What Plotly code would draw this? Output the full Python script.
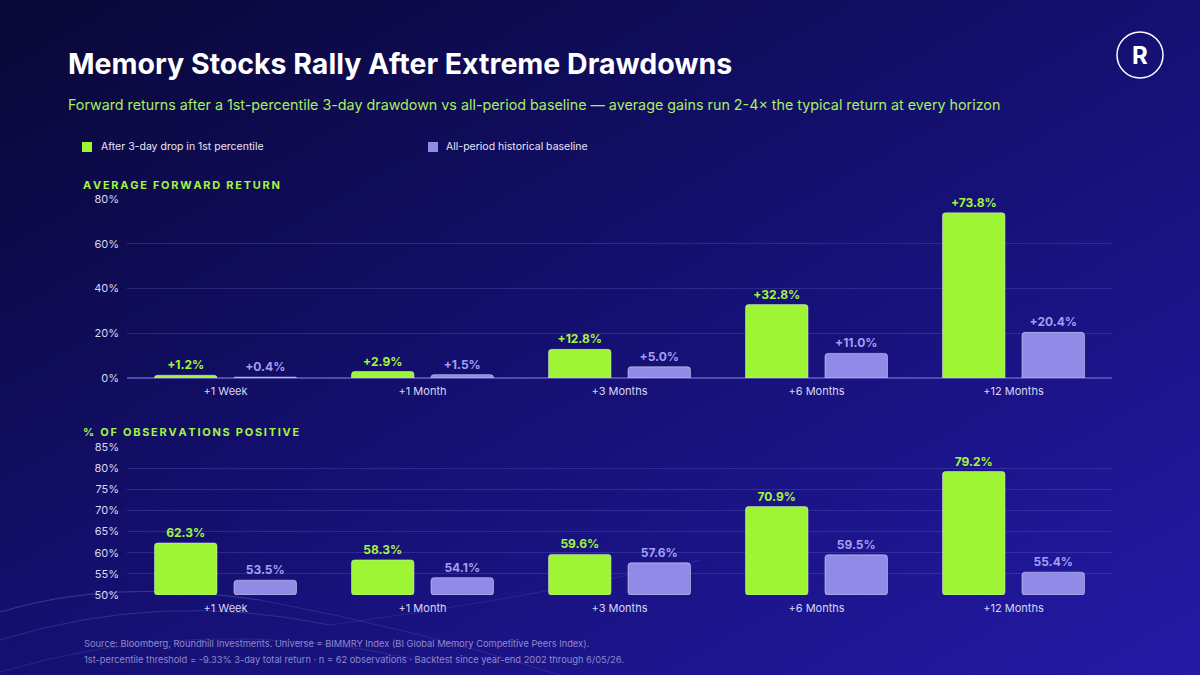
import base64
import numpy as np
import plotly.graph_objects as go

W, H = 1200, 675

# ---------------- data ----------------
horizons = ["+1 Week", "+1 Month", "+3 Months", "+6 Months", "+12 Months"]
avg_after_drop = [1.2, 2.9, 12.8, 32.8, 73.8]
avg_baseline = [0.4, 1.5, 5.0, 11.0, 20.4]
pos_after_drop = [62.3, 58.3, 59.6, 70.9, 79.2]
pos_baseline = [53.5, 54.1, 57.6, 59.5, 55.4]

series_names = ["After 3-day drop in 1st percentile", "All-period historical baseline"]
title_text = "Memory Stocks Rally After Extreme Drawdowns"
subtitle_text = ("Forward returns after a 1st-percentile 3-day drawdown vs all-period baseline — "
                 "average gains run 2-4× the typical return at every horizon")
section1 = "AVERAGE FORWARD RETURN"
section2 = "% OF OBSERVATIONS POSITIVE"
footer1 = "Source: Bloomberg, Roundhill Investments. Universe = BIMMRY Index (BI Global Memory Competitive Peers Index)."
footer2 = "1st-percentile threshold = -9.33% 3-day total return · n = 62 observations · Backtest since year-end 2002 through 6/05/26."

# ---------------- style ----------------
GREEN = "#9df534"
PURPLE = "#918ae6"
GREEN_TXT = "#a3f53f"
PURPLE_TXT = "#a49ef0"
TICK = "#d9d7f2"
GRID = "rgba(110,105,220,0.28)"
FONT = "Inter"


def px_x(x):
    return x / W


def px_y(y):
    return 1 - y / H


svg = f"""<svg xmlns='http://www.w3.org/2000/svg' width='{W}' height='{H}' viewBox='0 0 {W} {H}' preserveAspectRatio='none'>
<defs><linearGradient id='g' x1='0' y1='0' x2='1' y2='1'>
<stop offset='0' stop-color='#090735'/>
<stop offset='0.45' stop-color='#130f6c'/>
<stop offset='1' stop-color='#2419a6'/>
</linearGradient></defs>
<rect width='{W}' height='{H}' fill='url(#g)'/>
</svg>"""
bg_src = "data:image/svg+xml;base64," + base64.b64encode(svg.encode()).decode()

fig = go.Figure()

# top chart
fig.add_trace(go.Bar(x=horizons, y=avg_after_drop, name=series_names[0], marker_color=GREEN,
                     text=[f"+{v:.1f}%" for v in avg_after_drop], textposition="outside",
                     textfont=dict(color=GREEN_TXT, size=12, family=FONT, weight="bold"),
                     cliponaxis=False, xaxis="x", yaxis="y", showlegend=False))
fig.add_trace(go.Bar(x=horizons, y=avg_baseline, name=series_names[1], marker_color=PURPLE,
                     text=[f"+{v:.1f}%" for v in avg_baseline], textposition="outside",
                     textfont=dict(color=PURPLE_TXT, size=12, family=FONT, weight="bold"),
                     cliponaxis=False, xaxis="x", yaxis="y", showlegend=False))

# bottom chart (bars rise from the 50% floor)
base_pct = 50
fig.add_trace(go.Bar(x=horizons, y=np.array(pos_after_drop) - base_pct, base=base_pct,
                     name=series_names[0], marker_color=GREEN,
                     text=[f"{v:.1f}%" for v in pos_after_drop], textposition="outside",
                     textfont=dict(color=GREEN_TXT, size=12, family=FONT, weight="bold"),
                     cliponaxis=False, xaxis="x2", yaxis="y2", showlegend=False))
fig.add_trace(go.Bar(x=horizons, y=np.array(pos_baseline) - base_pct, base=base_pct,
                     name=series_names[1], marker_color=PURPLE,
                     text=[f"{v:.1f}%" for v in pos_baseline], textposition="outside",
                     textfont=dict(color=PURPLE_TXT, size=12, family=FONT, weight="bold"),
                     cliponaxis=False, xaxis="x2", yaxis="y2", showlegend=False))

xdom = [px_x(127), px_x(1112)]
axis_common = dict(showline=False, ticks="", automargin=False,
                   tickfont=dict(color=TICK, size=11, family=FONT))

fig.update_layout(
    width=W, height=H,
    margin=dict(l=0, r=0, t=0, b=0, pad=0, autoexpand=False),
    paper_bgcolor="#14106c",
    plot_bgcolor="rgba(0,0,0,0)",
    barmode="group", bargap=0.193, bargroupgap=0.214, barcornerradius=3,
    font=dict(family=FONT, color=TICK),
    xaxis=dict(domain=xdom, anchor="y", showgrid=False, ticklabelstandoff=5, **axis_common),
    yaxis=dict(domain=[px_y(378), px_y(199)], range=[0, 80], dtick=20, ticksuffix="%",
               gridcolor=GRID, gridwidth=1, zeroline=True, zerolinecolor="#4f4aae", zerolinewidth=2,
               anchor="x", ticklabelstandoff=7, **axis_common),
    xaxis2=dict(domain=xdom, anchor="y2", showgrid=False, ticklabelstandoff=5, **axis_common),
    yaxis2=dict(domain=[px_y(595), px_y(447)], range=[50, 85], dtick=5, ticksuffix="%",
                gridcolor=GRID, gridwidth=1, zeroline=False,
                anchor="x2", ticklabelstandoff=7, **axis_common),
    images=[dict(source=bg_src, xref="paper", yref="paper", x=0, y=1, sizex=1, sizey=1,
                 xanchor="left", yanchor="top", sizing="stretch", layer="below")],
)

ann = []


def text(x, y, s, size, color, weight="normal", xanchor="left"):
    ann.append(dict(x=px_x(x), y=px_y(y), xref="paper", yref="paper", text=s, showarrow=False,
                    xanchor=xanchor, yanchor="middle",
                    font=dict(size=size, color=color, family=FONT, weight=weight)))


def spaced(s):
    return "\u2009".join(s)


text(66, 64, title_text, 28.5, "#ffffff", "bold")
text(66, 105, subtitle_text, 14.3, "#a8ee5e")
text(99, 147, series_names[0], 10.5, "#e6e4f8")
text(444, 147, series_names[1], 10.5, "#e6e4f8")
text(81, 185, spaced(section1), 11, GREEN_TXT, "bold")
text(81, 432, spaced(section2), 11, GREEN_TXT, "bold")
text(82, 643, footer1, 9.3, "#8e89cc")
text(82, 659, footer2, 9.3, "#8e89cc")
text(1140, 56, "R", 24, "#ffffff", "bold", xanchor="center")
fig.update_layout(annotations=ann)

shapes = []
# legend squares
shapes.append(dict(type="rect", xref="paper", yref="paper", x0=px_x(82), x1=px_x(92),
                   y0=px_y(152), y1=px_y(142), fillcolor=GREEN, line_width=0))
shapes.append(dict(type="rect", xref="paper", yref="paper", x0=px_x(428), x1=px_x(438),
                   y0=px_y(152), y1=px_y(142), fillcolor=PURPLE, line_width=0))
# logo ring
shapes.append(dict(type="circle", xref="paper", yref="paper", x0=px_x(1117), x1=px_x(1163),
                   y0=px_y(78), y1=px_y(32), line=dict(color="#ffffff", width=1.5)))


# decorative faint arcs in lower-left
def arc(p0, c, p1, op):
    x0, y0 = p0
    cx, cy = c
    x1, y1 = p1
    path = (f"M {px_x(x0)},{px_y(y0)} Q {px_x(cx)},{px_y(cy)} {px_x(x1)},{px_y(y1)}")
    shapes.append(dict(type="path", xref="paper", yref="paper", path=path,
                       line=dict(color=f"rgba(200,200,255,{op})", width=1), layer="below"))


arc((0, 612), (110, 578), (260, 600), 0.22)
arc((0, 640), (160, 590), (330, 625), 0.16)
arc((0, 672), (200, 612), (420, 660), 0.12)
arc((260, 600), (420, 630), (560, 675), 0.12)
arc((330, 625), (520, 600), (700, 560), 0.10)
fig.update_layout(shapes=shapes)

fig.write_html("out.html")
